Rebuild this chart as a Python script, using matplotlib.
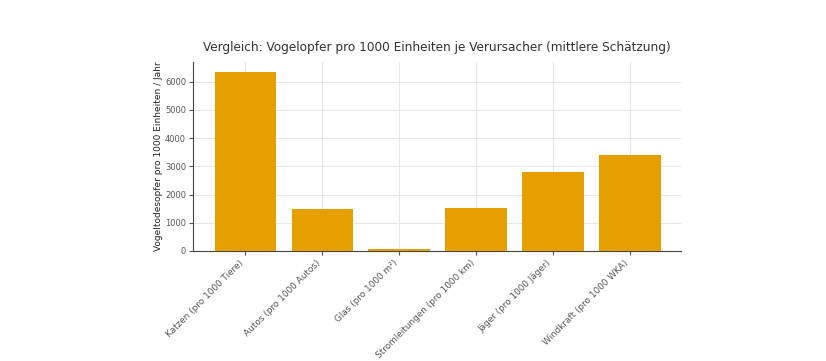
import matplotlib
matplotlib.use("Agg")
import matplotlib.pyplot as plt

categories = ["Katzen (pro 1000 Tiere)", "Autos (pro 1000 Autos)", "Glas (pro 1000 m²)",
              "Stromleitungen (pro 1000 km)", "Jäger (pro 1000 Jäger)", "Windkraft (pro 1000 WKA)"]
values = [6350, 1500, 80, 1520, 2800, 3400]

fig = plt.figure(figsize=(8.26, 3.61), dpi=100)
ax = fig.add_axes([193/826, 1-251/361, (681-193)/826, (251-62)/361])
ax.bar(range(len(categories)), values, color="#E69F00", width=0.8, zorder=3)
ax.set_xticks(range(len(categories)))
ax.set_xticklabels(categories, rotation=45, ha="right", fontsize=6.4, color="#333333")
ax.tick_params(axis="y", labelsize=6.0, labelcolor="#333333", pad=2)
ax.set_ylabel("Vogeltodesopfer pro 1000 Einheiten / Jahr", fontsize=6.5, color="#222222")
ax.yaxis.set_label_coords(-0.062, 0.5)
ax.set_title("Vergleich: Vogelopfer pro 1000 Einheiten je Verursacher (mittlere Schätzung)",
             fontsize=8.7, color="#333333", pad=8)
ax.set_xlim(-0.68, 5.66)
ax.set_ylim(0, 6700)
ax.grid(True, color="#e6e6e6", linewidth=0.7, zorder=0)
ax.spines["top"].set_visible(False)
ax.spines["right"].set_visible(False)
for s in ["left", "bottom"]:
    ax.spines[s].set_color("#444444")
    ax.spines[s].set_linewidth(0.8)
ax.tick_params(colors="#555555", length=3)
ax.tick_params(axis="x", pad=2)
fig.savefig("out.png", dpi=100)
